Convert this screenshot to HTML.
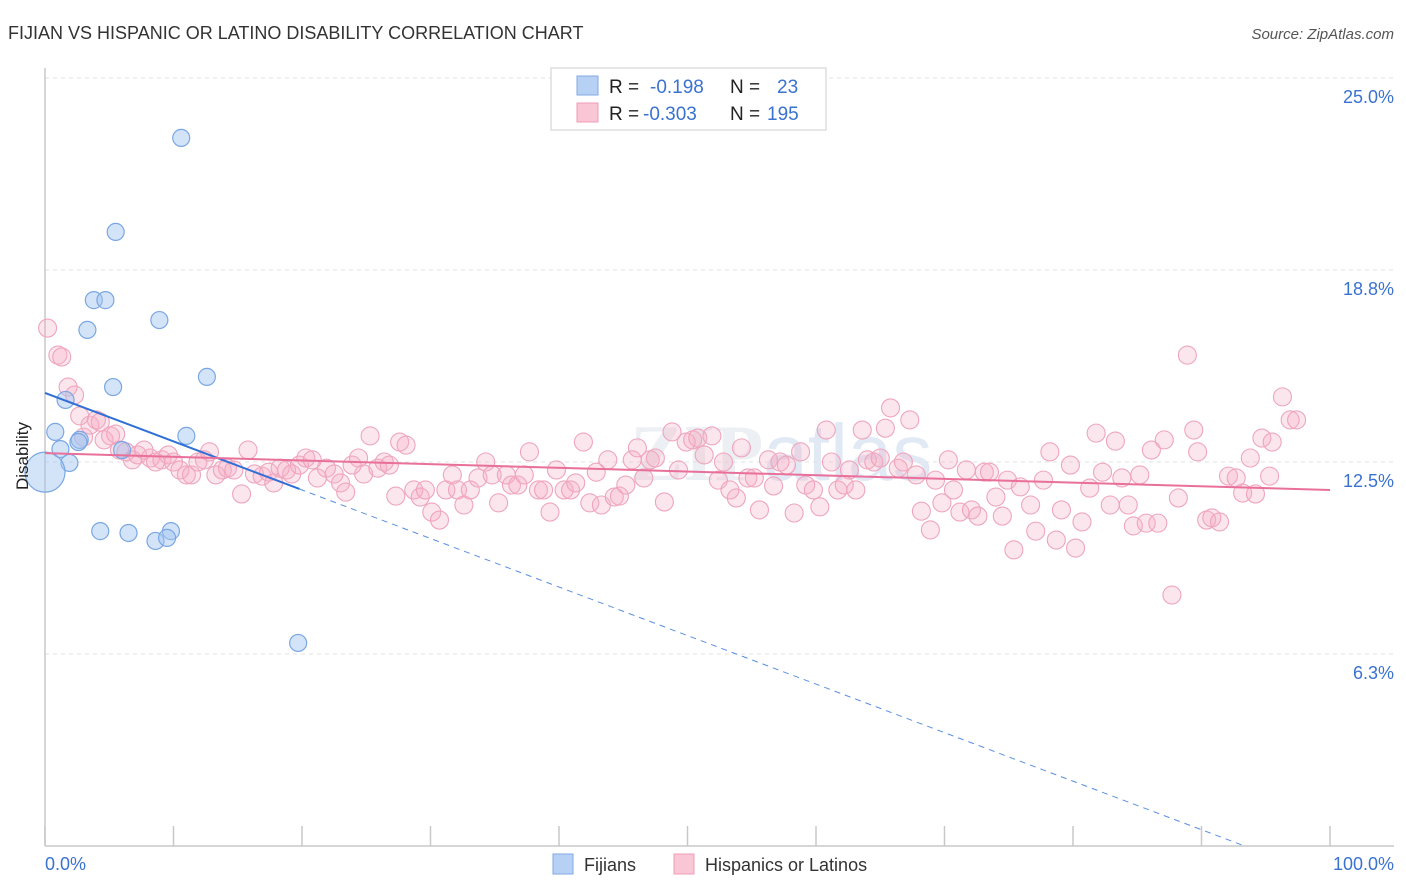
<!DOCTYPE html>
<html><head><meta charset="utf-8"><style>
body{margin:0;background:#fff;font-family:"Liberation Sans",sans-serif;}
svg{display:block}
</style></head><body>
<svg id="chart" width="1406" height="892">
<text x="8" y="39" font-size="18" fill="#333">FIJIAN VS HISPANIC OR LATINO DISABILITY CORRELATION CHART</text>
<text x="1394" y="39" font-size="15" fill="#555" font-style="italic" text-anchor="end">Source: ZipAtlas.com</text>
<text x="630" y="480" font-size="80" fill="#eceff3" font-family="Liberation Serif" font-weight="bold">ZIP<tspan font-family="Liberation Sans" font-weight="normal" fill="#e1e9f5">atlas</tspan></text>
<g id="grid"></g><g id="axes"></g><g id="pts"></g><g id="lines"></g>
<text x="28" y="456" font-size="17" fill="#222" text-anchor="middle" transform="rotate(-90 28 456)">Disability</text>
<text x="45" y="870" font-size="18" fill="#3a72d0">0.0%</text>
<text x="1394" y="870" font-size="18" fill="#3a72d0" text-anchor="end">100.0%</text>
<g>
<rect x="551" y="68" width="275" height="62" fill="#fff" stroke="#ddd" stroke-width="1.5"/>
<rect x="577" y="76" width="21" height="19" fill="#b7d1f5" stroke="#80a9e6"/>
<rect x="577" y="103" width="21" height="19" fill="#f9c6d5" stroke="#ef9cb6"/>
<text x="609" y="93" font-size="19" fill="#222">R = <tspan fill="#3a72d0" x="650">-0.198</tspan><tspan fill="#222" x="730">N =</tspan><tspan fill="#3a72d0" x="777">23</tspan></text>
<text x="609" y="120" font-size="19" fill="#222">R = <tspan fill="#3a72d0" x="643">-0.303</tspan><tspan fill="#222" x="730">N =</tspan><tspan fill="#3a72d0" x="767">195</tspan></text>
</g>
<g>
<rect x="553" y="854" width="20" height="20" fill="#b7d1f5" stroke="#80a9e6"/>
<text x="584" y="871" font-size="18" fill="#333">Fijians</text>
<rect x="674" y="854" width="20" height="20" fill="#f9c6d5" stroke="#ef9cb6"/>
<text x="705" y="871" font-size="18" fill="#333">Hispanics or Latinos</text>
</g>
</svg>
<script>
const yTicks=[25.0,18.8,12.5,6.3];
const yTickValues=[25,18.75,12.5,6.25];
const xTickValues=[0,10,20,30,40,50,60,70,80,90,100];
const fijX=[10.6,5.5,3.8,4.7,8.9,3.3,12.6,5.3,1.6,0.8,2.7,1.2,1.9,6.0,11.0,0,4.3,6.5,9.8,8.6,9.5,19.7,2.6];
const fijY=[23.05,19.99,17.77,17.77,17.12,16.8,15.27,14.94,14.52,13.48,13.22,12.92,12.47,12.89,13.35,12.17,10.25,10.19,10.25,9.93,10.03,6.61,13.15];
const hisX=[0.2,1.0,1.3,1.8,2.3,2.7,3.0,3.5,4.0,4.3,4.6,5.1,5.5,5.8,6.3,6.8,7.2,7.7,8.2,8.6,9.1,9.6,10.0,10.5,11.0,11.4,11.9,12.4,12.8,13.3,13.8,14.2,14.7,15.3,15.8,16.3,16.9,17.4,17.8,18.3,18.8,19.2,19.8,20.3,20.8,21.2,21.9,22.5,23.0,23.4,23.9,24.4,24.8,25.3,25.9,26.4,26.8,27.3,27.6,28.1,28.7,29.2,29.6,30.1,30.7,31.2,31.7,32.1,32.6,33.1,33.7,34.3,34.8,35.3,35.9,36.3,36.8,37.3,37.7,38.4,38.8,39.3,39.8,40.4,40.9,41.3,41.9,42.4,42.9,43.3,43.8,44.3,44.7,45.2,45.7,46.1,46.6,47.1,47.5,48.2,48.8,49.3,49.9,50.4,50.8,51.3,51.9,52.4,52.8,53.3,53.8,54.2,54.7,55.2,55.6,56.3,56.7,57.2,57.7,58.3,58.8,59.2,59.8,60.3,60.8,61.2,61.7,62.2,62.6,63.1,63.6,64.0,64.5,65.0,65.4,65.8,66.4,66.8,67.3,67.8,68.2,68.9,69.3,69.8,70.3,70.7,71.2,71.7,72.1,72.6,73.1,73.5,74.0,74.5,74.9,75.4,75.9,76.7,77.1,77.7,78.2,78.7,79.1,79.8,80.2,80.7,81.3,81.8,82.3,82.9,83.3,83.8,84.3,84.7,85.2,85.7,86.1,86.6,87.1,87.7,88.2,88.9,89.4,89.7,90.4,90.8,91.4,92.1,92.7,93.2,93.8,94.2,94.7,95.5,96.3,96.9,97.4,95.3];
const hisY=[16.86,15.98,15.92,14.94,14.68,14.0,13.31,13.7,13.87,13.8,13.22,13.35,13.41,12.89,12.83,12.57,12.73,12.89,12.63,12.5,12.57,12.73,12.5,12.24,12.08,12.08,12.5,12.57,12.83,12.08,12.24,12.3,12.24,11.46,12.89,12.11,12.04,12.17,11.82,12.3,12.24,12.11,12.4,12.63,12.57,11.98,12.3,12.11,11.82,11.52,12.4,12.63,12.11,13.35,12.3,12.5,12.4,11.39,13.15,13.05,11.59,11.36,11.59,10.87,10.61,11.59,12.08,11.59,11.1,11.59,11.98,12.5,12.08,11.17,12.08,11.75,11.75,12.08,12.83,11.59,11.59,10.87,12.24,11.59,11.59,11.82,13.15,11.17,12.17,11.1,12.57,11.36,11.39,11.75,12.57,12.96,11.98,12.57,12.63,11.2,13.48,12.24,13.15,13.22,13.28,12.73,13.35,11.91,12.5,11.59,11.33,12.96,11.98,11.98,10.94,12.57,11.72,12.5,12.4,10.84,12.83,11.75,11.59,11.04,13.54,12.5,11.59,11.75,12.24,11.59,13.54,12.57,12.5,12.63,13.6,14.26,12.3,12.5,13.87,12.08,10.9,10.29,11.91,11.17,12.57,11.59,10.87,12.24,10.94,10.74,12.17,12.17,11.36,10.74,11.91,9.64,11.69,11.1,10.25,11.91,12.83,9.96,10.94,12.4,9.7,10.55,11.65,13.44,12.17,11.1,13.18,11.98,11.1,10.42,12.08,10.51,12.89,10.51,13.22,8.17,11.33,15.98,13.54,12.83,10.61,10.68,10.55,12.04,11.98,11.49,12.63,11.46,13.28,13.15,14.62,13.87,13.87,12.04];
const fijTrend=[14.75,-0.158];
const hisTrend=[12.79,-0.012];
const NS="http://www.w3.org/2000/svg";
const X0=45,X1=1330,Y0=846,PX_PER=30.72;
function sx(v){return X0+(X1-X0)*v/100;}
function sy(v){return Y0-v*PX_PER;}
function mk(tag,attrs,parent){const e=document.createElementNS(NS,tag);for(const k in attrs)e.setAttribute(k,attrs[k]);parent.appendChild(e);return e;}
const grid=document.getElementById('grid'),axes=document.getElementById('axes'),pts=document.getElementById('pts'),lines=document.getElementById('lines');
yTickValues.forEach((v,i)=>{
 const l=mk('line',{x1:X0,x2:1394,y1:sy(v),y2:sy(v),stroke:'#e2e2e2','stroke-dasharray':'4,4'},grid);
 
 
 const t=mk('text',{x:1394,y:sy(v)+25,'font-size':18,fill:'#3a72d0','text-anchor':'end'},grid);
 t.textContent=yTicks[i].toFixed(1)+'%';
 
 
});
const ax=mk('line',{x1:X0,x2:X0,y1:68,y2:Y0,stroke:'#c8c8c8','stroke-width':1.5},axes);


const bx=mk('line',{x1:X0,x2:1394,y1:Y0,y2:Y0,stroke:'#c8c8c8','stroke-width':1.5},axes);


xTickValues.forEach(v=>{
 const t=mk('line',{x1:sx(v),x2:sx(v),y1:826,y2:Y0,stroke:'#c8c8c8','stroke-width':1.5},axes);
 
 
});
hisX.forEach((x,i)=>{
 const c=mk('circle',{cx:sx(x),cy:sy(hisY[i]),r:9,fill:'rgba(246,172,196,0.3)',stroke:'#eea5bd','stroke-width':1.1},pts);
 
 
});
fijX.forEach((x,i)=>{
 const big=(x===0);
 const c=mk('circle',{cx:sx(x),cy:sy(fijY[i]),r:big?20:8.5,fill:'rgba(160,196,240,0.45)',stroke:'#7aa7e3','stroke-width':1.2},pts);
 
 
});
const fx=19.8, fz=-fijTrend[0]/fijTrend[1];
const l1=mk('line',{x1:sx(0),y1:sy(fijTrend[0]),x2:sx(fx),y2:sy(fijTrend[0]+fijTrend[1]*fx),stroke:'#2f6fd6','stroke-width':2},lines);


const l2=mk('line',{x1:sx(fx),y1:sy(fijTrend[0]+fijTrend[1]*fx),x2:sx(fz),y2:sy(0),stroke:'#5a8fe0','stroke-width':1,'stroke-dasharray':'6,5'},lines);


const l3=mk('line',{x1:sx(0),y1:sy(hisTrend[0]),x2:sx(100),y2:sy(hisTrend[0]+hisTrend[1]*100),stroke:'#e8709a','stroke-width':2},lines);


</script>
</body></html>
